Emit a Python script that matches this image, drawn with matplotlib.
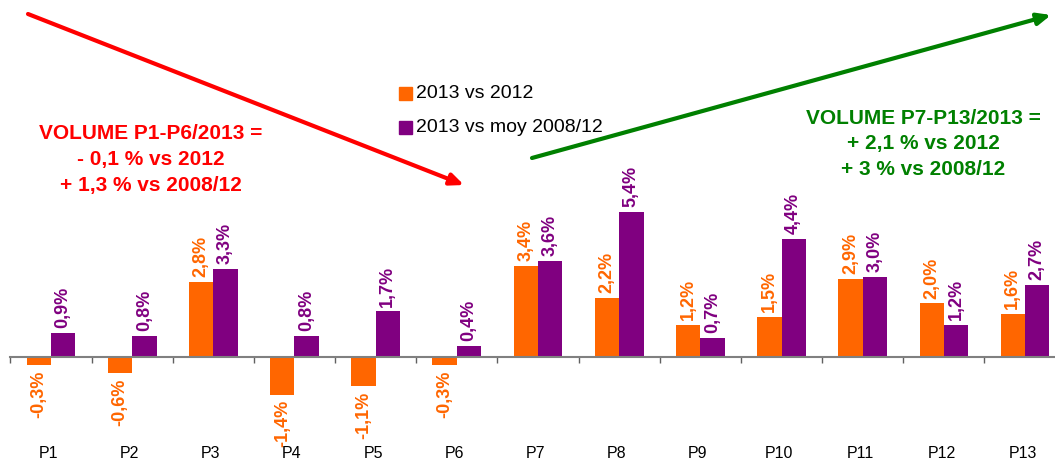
import matplotlib
matplotlib.use("Agg")
import matplotlib.pyplot as plt
import numpy as np

categories = ["P1", "P2", "P3", "P4", "P5", "P6", "P7", "P8", "P9", "P10", "P11", "P12", "P13"]
vs_2012 = [-0.3, -0.6, 2.8, -1.4, -1.1, -0.3, 3.4, 2.2, 1.2, 1.5, 2.9, 2.0, 1.6]
vs_moy = [0.9, 0.8, 3.3, 0.8, 1.7, 0.4, 3.6, 5.4, 0.7, 4.4, 3.0, 1.2, 2.7]
series_names = ["2013 vs 2012", "2013 vs moy 2008/12"]
colors = ["#FF6600", "#800080"]

plt.rcParams['font.family'] = ['Liberation Sans', 'DejaVu Sans']

W, H = 1055, 461
fig = plt.figure(figsize=(W / 100, H / 100), dpi=100)

left_px = 10.4
ax = fig.add_axes([left_px / W, 0, 1 - left_px / W, 1])
px_per_cat = 81.17
ax.set_xlim(-0.5, -0.5 + (W - left_px) / px_per_cat)
px_per_pct = 26.8
ax.set_ylim(-104 / px_per_pct, 357 / px_per_pct)

x = np.arange(len(categories))
bw = 0.30
for vals, off, col in [(vs_2012, -bw / 2, colors[0]), (vs_moy, bw / 2, colors[1])]:
    bars = ax.bar(x + off, vals, bw, color=col, zorder=2)
    for b, v in zip(bars, vals):
        lab = f"{v:.1f}%".replace(".", ",")
        if v >= 0:
            ax.annotate(lab, (b.get_x() + b.get_width() / 2, v), xytext=(0, 3.5),
                        textcoords='offset points', rotation=90, ha='center', va='bottom',
                        color=col, fontsize=13, fontweight='bold')
        else:
            ax.annotate(lab, (b.get_x() + b.get_width() / 2, v), xytext=(0, -4),
                        textcoords='offset points', rotation=90, ha='center', va='top',
                        color=col, fontsize=13, fontweight='bold')

for s in ['top', 'right', 'left']:
    ax.spines[s].set_visible(False)
ax.spines['bottom'].set_position(('data', 0))
ax.spines['bottom'].set_color('#808080')
ax.spines['bottom'].set_linewidth(1.5)
ax.spines['bottom'].set_zorder(3)
ax.set_yticks([])
ax.set_xticks(np.arange(len(categories)) - 0.5)
ax.tick_params(axis='x', direction='out', length=4, width=1, color='#606060', labelbottom=False)

for xi, c in zip(x, categories):
    ax.text(xi - 0.03, 8 / H, c, transform=ax.get_xaxis_transform(), ha='center', va='center',
            fontsize=11.5, color='black')

# legend
for i, (name, col) in enumerate(zip(series_names, colors)):
    ycen = 1 - (94 + i * 34) / H
    fig.patches.append(plt.Rectangle((399 / W, ycen - 6.5 / H), 13 / W, 13 / H,
                                     transform=fig.transFigure, color=col, figure=fig))
    fig.text(416 / W, ycen, name, ha='left', va='center', fontsize=14, color='black')

# arrows
fig_ax = fig.add_axes([0, 0, 1, 1], facecolor='none')
fig_ax.set_xlim(0, W)
fig_ax.set_ylim(H, 0)
fig_ax.axis('off')
fig_ax.annotate('', xy=(464, 185), xytext=(28, 14),
                arrowprops=dict(arrowstyle='-|>,head_length=0.8,head_width=0.35', color='#FF0000', lw=3,
                                shrinkA=0, shrinkB=0))
fig_ax.annotate('', xy=(1051, 15), xytext=(532, 158),
                arrowprops=dict(arrowstyle='-|>,head_length=0.8,head_width=0.35', color='#008000', lw=3,
                                shrinkA=0, shrinkB=0))

red_lines = ["VOLUME P1-P6/2013 =", "- 0,1 % vs 2012", "+ 1,3 % vs 2008/12"]
for i, t in enumerate(red_lines):
    fig_ax.text(151, 133 + i * 26, t, ha='center', va='center', fontsize=15,
                fontweight='bold', color='#FF0000')
green_lines = ["VOLUME P7-P13/2013 =", "+ 2,1 % vs 2012", "+ 3 % vs 2008/12"]
for i, t in enumerate(green_lines):
    fig_ax.text(923, 118 + i * 25.5, t, ha='center', va='center', fontsize=15,
                fontweight='bold', color='#008000')

fig.savefig("out.png", dpi=100)
